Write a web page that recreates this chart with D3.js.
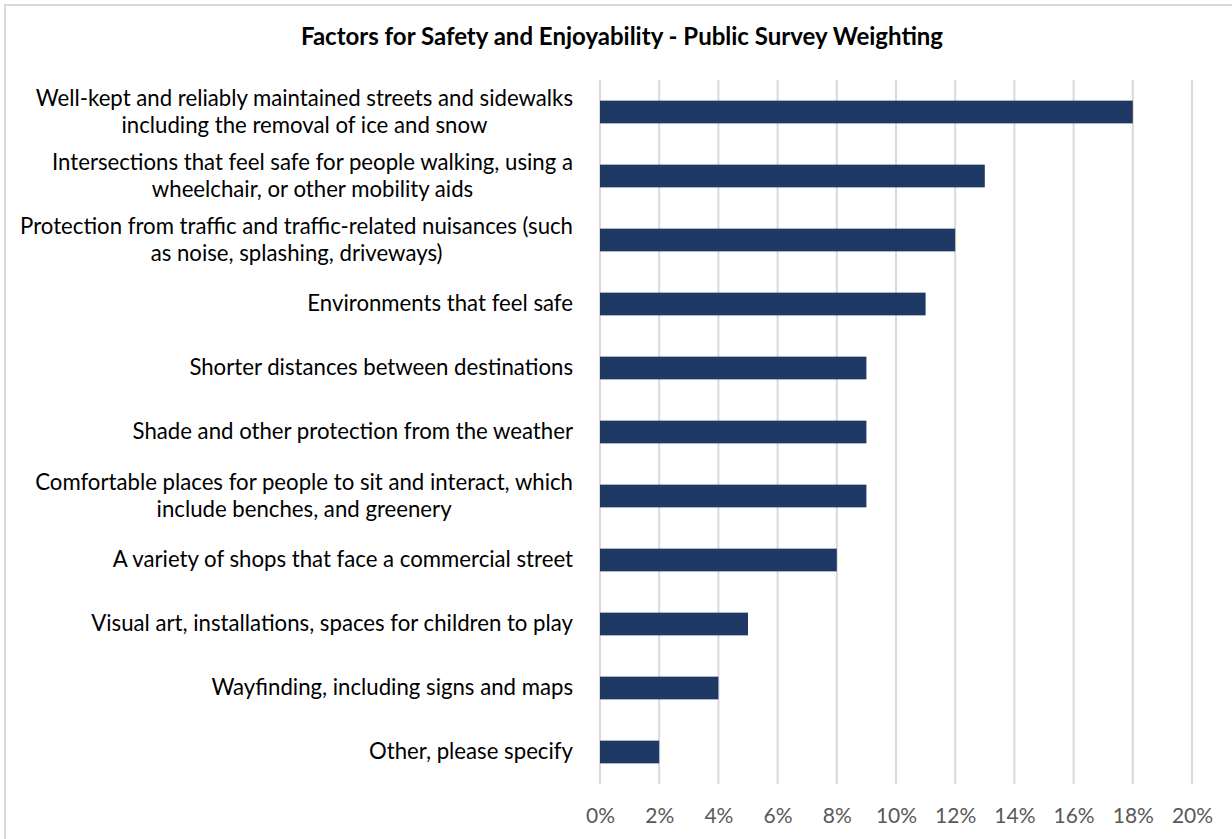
<!DOCTYPE html>
<html>
<head>
<meta charset="utf-8">
<script src="https://cdn.jsdelivr.net/npm/d3@7"></script>
<style>
  html, body { margin: 0; padding: 0; background: #fff; }
  svg { display: block; }
</style>
</head>
<body>
<svg id="chart" width="1232" height="839"></svg>
<script>
// Survey factors (top to bottom) and their weighting share (%)
const categories = [
  ["Well-kept and reliably maintained streets and sidewalks", "including the removal of ice and snow"],
  ["Intersections that feel safe for people walking, using a", "wheelchair, or other mobility aids"],
  ["Protection from traffic and traffic-related nuisances (such", "as noise, splashing, driveways)"],
  ["Environments that feel safe"],
  ["Shorter distances between destinations"],
  ["Shade and other protection from the weather"],
  ["Comfortable places for people to sit and interact, which", "include benches, and greenery"],
  ["A variety of shops that face a commercial street"],
  ["Visual art, installations, spaces for children to play"],
  ["Wayfinding, including signs and maps"],
  ["Other, please specify"]
];
const weights = [18, 13, 12, 11, 9, 9, 9, 8, 5, 4, 2];
const tickValues = [0, 2, 4, 6, 8, 10, 12, 14, 16, 18, 20];
const title = "Factors for Safety and Enjoyability - Public Survey Weighting";

const FONT = "Lato, 'Open Sans', 'Noto Sans', sans-serif";
const svg = d3.select("#chart");

// chart frame
svg.append("rect")
  .attr("x", 5).attr("y", 5)
  .attr("width", 1240).attr("height", 850)
  .attr("fill", "#fff")
  .attr("stroke", "#d9d9d9").attr("stroke-width", 2);

const plot = { left: 600, right: 1192, top: 80, bottom: 784 };

const x = d3.scaleLinear().domain([0, 20]).range([plot.left, plot.right]);
const y = d3.scaleBand()
  .domain(d3.range(categories.length))
  .range([plot.top, plot.bottom])
  .paddingInner(0.645).paddingOuter(0.3225);

// title
svg.append("text")
  .attr("x", 622).attr("y", 45)
  .attr("text-anchor", "middle")
  .attr("font-family", FONT).attr("font-weight", "bold")
  .attr("font-size", 24).attr("fill", "#000")
  .text(title);

// vertical gridlines
svg.append("g")
  .selectAll("line")
  .data(tickValues)
  .join("line")
  .attr("x1", d => x(d)).attr("x2", d => x(d))
  .attr("y1", plot.top).attr("y2", plot.bottom)
  .attr("stroke", "#d9d9d9").attr("stroke-width", 2);

// x axis labels
const xAxis = d3.axisBottom(x)
  .tickValues(tickValues)
  .tickFormat(d => d + "%")
  .tickSize(0).tickPadding(0);
const gx = svg.append("g")
  .attr("transform", `translate(0,${plot.bottom})`)
  .call(xAxis);
gx.select(".domain").remove();
gx.selectAll("text")
  .attr("y", 39).attr("dy", 0)
  .attr("font-family", FONT).attr("font-size", 21).attr("fill", "#595959");

// bars
svg.append("g")
  .selectAll("rect")
  .data(weights)
  .join("rect")
  .attr("x", x(0))
  .attr("y", (d, i) => y(i))
  .attr("width", d => x(d) - x(0))
  .attr("height", y.bandwidth())
  .attr("fill", "#203864");

// category labels: lines centred on each other, block right-aligned to the axis
const labelRight = 573;
const lineGap = 27;
const fontSize = 22.2;
const lg = svg.append("g")
  .attr("font-family", FONT).attr("font-size", fontSize).attr("fill", "#000");

categories.forEach((lines, i) => {
  const cy = y(i) + y.bandwidth() / 2 - 1.5;
  const g = lg.append("g");
  const texts = lines.map((t, k) =>
    g.append("text")
      .attr("y", cy + (k - (lines.length - 1) / 2) * lineGap)
      .attr("dominant-baseline", "central")
      .attr("text-anchor", "middle")
      .text(t));
  const w = d3.max(texts, t => t.node().getComputedTextLength());
  texts.forEach(t => t.attr("x", labelRight - w / 2));
});
</script>
</body>
</html>
